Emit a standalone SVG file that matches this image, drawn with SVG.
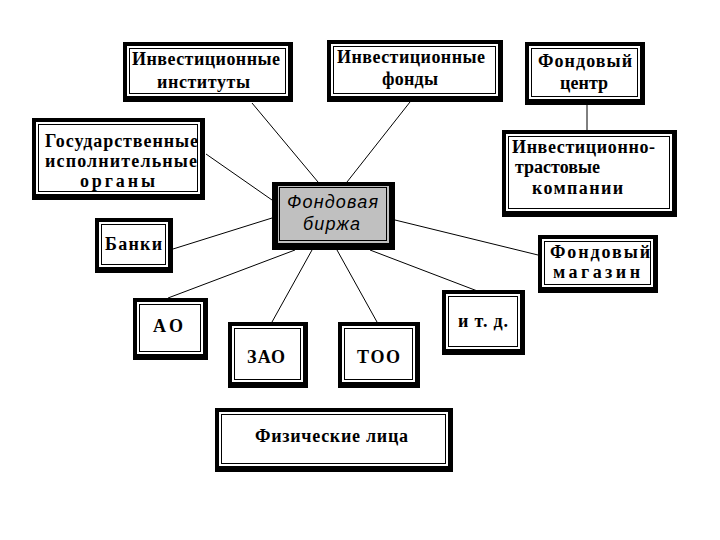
<svg xmlns="http://www.w3.org/2000/svg" width="720" height="540" viewBox="0 0 720 540">
<style>
.o{fill:#000}
.f{fill:#fff}
.i{fill:none;stroke:#000;stroke-width:1}
.cf{fill:#c0c0c0}
.t{font-family:"Liberation Serif","Times New Roman",serif;font-weight:bold;font-size:18px;fill:#000}
.c{font-family:"Liberation Sans",Arial,sans-serif;font-style:italic;font-size:18px;fill:#000}
.l{stroke:#000;stroke-width:1;fill:none}
</style>
<rect width="720" height="540" fill="#fff"/>
<g id="connectors">
<line class="l" x1="252" y1="103" x2="318" y2="182"/>
<line class="l" x1="410" y1="102" x2="347" y2="182"/>
<line class="l" x1="587" y1="105" x2="587" y2="130"/>
<line class="l" x1="206" y1="154" x2="272" y2="200"/>
<line class="l" x1="173" y1="249" x2="272" y2="218"/>
<line class="l" x1="168" y1="298" x2="295" y2="250"/>
<line class="l" x1="272" y1="322" x2="312" y2="250"/>
<line class="l" x1="377" y1="322" x2="337" y2="250"/>
<line class="l" x1="480" y1="292" x2="370" y2="250"/>
<line class="l" x1="538" y1="255" x2="395" y2="220"/>
</g>
<g id="n1">
<rect class="o" x="123" y="42" width="170" height="60"/>
<rect class="f" x="127" y="46" width="161" height="50"/>
<rect class="i" x="129.5" y="48.5" width="156" height="45"/>
<text class="t" x="132" y="65" textLength="148" lengthAdjust="spacing">Инвестиционные</text>
<text class="t" x="157" y="88" textLength="93" lengthAdjust="spacing">институты</text>
</g>
<g id="n2">
<rect class="o" x="327" y="40" width="176" height="62"/>
<rect class="f" x="331" y="44" width="167" height="52"/>
<rect class="i" x="333.5" y="46.5" width="162" height="47"/>
<text class="t" x="337" y="63" textLength="148" lengthAdjust="spacing">Инвестиционные</text>
<text class="t" x="382" y="85" textLength="56" lengthAdjust="spacing">фонды</text>
</g>
<g id="n3">
<rect class="o" x="525" y="42" width="120" height="63"/>
<rect class="f" x="529" y="46" width="111" height="53"/>
<rect class="i" x="531.5" y="48.5" width="106" height="48"/>
<text class="t" x="538" y="67" textLength="94" lengthAdjust="spacing">Фондовый</text>
<text class="t" x="560" y="89" textLength="48" lengthAdjust="spacing">центр</text>
</g>
<g id="n4">
<rect class="o" x="32" y="118" width="173" height="82"/>
<rect class="f" x="36" y="122" width="164" height="72"/>
<rect class="i" x="38.5" y="124.5" width="159" height="67"/>
<text class="t" x="45" y="147" textLength="153" lengthAdjust="spacing">Государственные</text>
<text class="t" x="45" y="167" textLength="152" lengthAdjust="spacing">исполнительные</text>
<text class="t" x="80" y="187" textLength="75" lengthAdjust="spacing">органы</text>
</g>
<g id="n5">
<rect class="o" x="502" y="130" width="175" height="87"/>
<rect class="f" x="506" y="134" width="166" height="77"/>
<rect class="i" x="508.5" y="136.5" width="161" height="72"/>
<text class="t" x="512" y="153" textLength="143" lengthAdjust="spacing">Инвестиционно-</text>
<text class="t" x="515" y="173" textLength="85" lengthAdjust="spacing">трастовые</text>
<text class="t" x="532" y="194" textLength="91" lengthAdjust="spacing">компании</text>
</g>
<g id="center">
<rect class="o" x="272" y="182" width="123" height="68"/>
<rect class="cf" x="278" y="186" width="111" height="57"/>
<rect class="i" x="279.5" y="187.5" width="107" height="53"/>
<text class="c" x="287" y="208" textLength="91" lengthAdjust="spacing">Фондовая</text>
<text class="c" x="303" y="230" textLength="57" lengthAdjust="spacing">биржа</text>
</g>
<g id="n7">
<rect class="o" x="95" y="218" width="78" height="55"/>
<rect class="f" x="99" y="222" width="69" height="45"/>
<rect class="i" x="101.5" y="224.5" width="64" height="40"/>
<text class="t" x="105" y="250" textLength="57" lengthAdjust="spacing">Банки</text>
</g>
<g id="n8">
<rect class="o" x="538" y="235" width="120" height="58"/>
<rect class="f" x="542" y="239" width="111" height="48"/>
<rect class="i" x="544.5" y="241.5" width="106" height="43"/>
<text class="t" x="550" y="258" textLength="100" lengthAdjust="spacing">Фондовый</text>
<text class="t" x="553" y="278" textLength="87" lengthAdjust="spacing">магазин</text>
</g>
<g id="n9">
<rect class="o" x="133" y="298" width="75" height="62"/>
<rect class="f" x="137" y="302" width="66" height="52"/>
<rect class="i" x="139.5" y="304.5" width="61" height="47"/>
<text class="t" x="153" y="332" textLength="30" lengthAdjust="spacing">АО</text>
</g>
<g id="n10">
<rect class="o" x="228" y="322" width="80" height="66"/>
<rect class="f" x="232" y="326" width="71" height="56"/>
<rect class="i" x="234.5" y="328.5" width="66" height="51"/>
<text class="t" x="247" y="363" textLength="38" lengthAdjust="spacing">ЗАО</text>
</g>
<g id="n11">
<rect class="o" x="338" y="322" width="82" height="66"/>
<rect class="f" x="342" y="326" width="73" height="56"/>
<rect class="i" x="344.5" y="328.5" width="68" height="51"/>
<text class="t" x="357" y="363" textLength="43" lengthAdjust="spacing">ТОО</text>
</g>
<g id="n12">
<rect class="o" x="442" y="290" width="83" height="65"/>
<rect class="f" x="446" y="294" width="74" height="55"/>
<rect class="i" x="448.5" y="296.5" width="69" height="50"/>
<text class="t" x="458" y="327" textLength="50" lengthAdjust="spacing">и т. д.</text>
</g>
<g id="n13">
<rect class="o" x="215" y="408" width="238" height="64"/>
<rect class="f" x="219" y="412" width="229" height="54"/>
<rect class="i" x="221.5" y="414.5" width="224" height="49"/>
<text class="t" x="255" y="442" textLength="153" lengthAdjust="spacing">Физические лица</text>
</g>
</svg>
